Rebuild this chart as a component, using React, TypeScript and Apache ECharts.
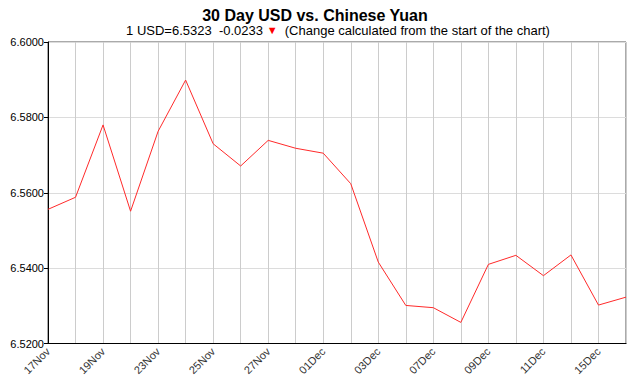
import React, { useEffect, useRef } from "react";
import * as echarts from "echarts";

const dates = [
  "17Nov", "18Nov", "19Nov", "20Nov", "23Nov", "24Nov", "25Nov", "26Nov", "27Nov", "30Nov",
  "01Dec", "02Dec", "03Dec", "04Dec", "07Dec", "08Dec", "09Dec", "10Dec", "11Dec", "14Dec",
  "15Dec", "16Dec",
];
const rates = [
  6.5556, 6.5588, 6.578, 6.5551, 6.5763, 6.5899, 6.573, 6.5671, 6.5739, 6.5718,
  6.5705, 6.5624, 6.5416, 6.5301, 6.5295, 6.5256, 6.541, 6.5434, 6.538, 6.5435,
  6.5302, 6.5323,
];
const yMin = 6.52;
const yMax = 6.6;
const yStep = 0.02;
const titleText = "30 Day USD vs. Chinese Yuan";

export default function App() {
  const ref = useRef<HTMLDivElement>(null);
  useEffect(() => {
    document.body.style.margin = "0";
    const chart = echarts.init(ref.current!, null, { renderer: "svg" });
    const last = rates[rates.length - 1];
    const change = last - rates[0];
    const font = "Liberation Sans, Arial, sans-serif";
    chart.setOption({
      animation: false,
      backgroundColor: "#fff",
      textStyle: { fontFamily: font },
      grid: {
        left: 48,
        right: 11,
        top: 42,
        bottom: 33,
        show: true,
        borderColor: "#555",
        borderWidth: 1,
      },
      graphic: [
        {
          type: "text",
          x: 315,
          y: 15,
          style: {
            text: titleText,
            font: `bold 16px ${font}`,
            fill: "#000",
            textAlign: "center",
            textVerticalAlign: "middle",
          },
        },
        {
          type: "text",
          x: 338,
          y: 30,
          style: {
            text: `{a|1 USD=${last.toFixed(4)}  ${change.toFixed(4)} }{t|▼}{a|  (Change calculated from the start of the chart)}`,
            textAlign: "center",
            textVerticalAlign: "middle",
            rich: {
              a: { fontSize: 13, fontFamily: font, fill: "#000", color: "#000" },
              t: { fontSize: 11, fontFamily: font, fill: "#ff0000", color: "#ff0000" },
            },
          },
        },
      ],
      xAxis: {
        type: "category",
        data: dates,
        boundaryGap: false,
        axisLine: { show: true, lineStyle: { color: "#000", width: 1 } },
        axisTick: { show: false },
        axisLabel: {
          interval: 1,
          rotate: 45,
          fontSize: 11,
          color: "#333",
          margin: 6,
          fontFamily: font,
        },
        splitLine: {
          show: true,
          interval: 0,
          lineStyle: { color: "#cccccc", width: 1 },
        },
      },
      yAxis: {
        type: "value",
        min: yMin,
        max: yMax,
        interval: yStep,
        axisLine: { show: true, lineStyle: { color: "#000", width: 1 } },
        axisTick: { show: true, length: 4, lineStyle: { color: "#000" } },
        axisLabel: {
          fontSize: 11,
          color: "#000",
          margin: 4,
          fontFamily: font,
          formatter: (v: number) => v.toFixed(4),
        },
        splitLine: { show: true, lineStyle: { color: "#dcdcdc", width: 1 } },
      },
      series: [
        {
          type: "line",
          data: rates,
          symbol: "none",
          lineStyle: { color: "#ff2a2a", width: 1 },
        },
      ],
    });
    return () => chart.dispose();
  }, []);
  return (
    <div
      ref={ref}
      style={{ position: "absolute", left: 0, top: 0, width: 637, height: 378 }}
    />
  );
}
